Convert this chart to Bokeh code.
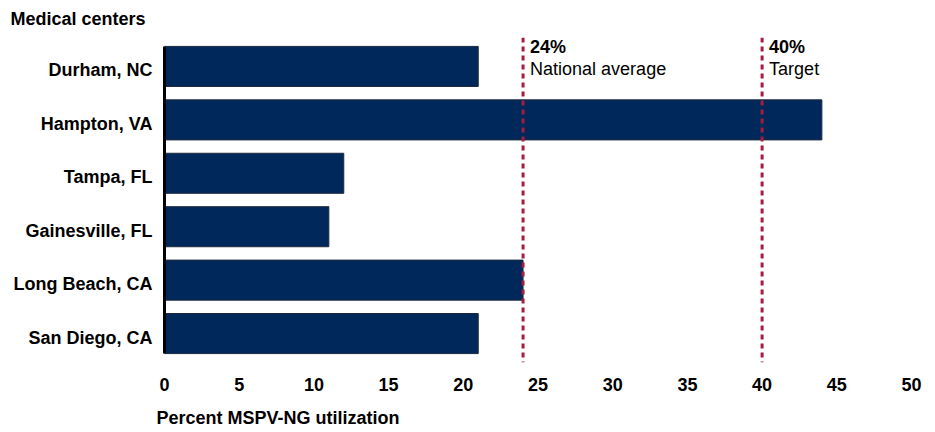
from bokeh.plotting import figure
from bokeh.models import (Range1d, Span, Label, Title, LinearAxis, FixedTicker, ColumnDataSource)
from bokeh.embed import file_html
from bokeh.resources import INLINE

centers = ["Durham, NC", "Hampton, VA", "Tampa, FL", "Gainesville, FL", "Long Beach, CA", "San Diego, CA"]
utilization = [21, 44, 12, 11, 24, 21]
x_ticks = [0, 5, 10, 15, 20, 25, 30, 35, 40, 45, 50]
ref_values = [24, 40]
ref_pct = ["24%", "40%"]
ref_names = ["National average", "Target"]
x_title = "Percent MSPV-NG utilization"
y_title = "Medical centers"

FONT = "Liberation Sans"
BAR_H = 0.75
PAD = 0.042          # padding (category units) at each end of the y range
LABEL_SHIFT = 0.075  # category labels sit slightly below bar centres
X_TITLE_AT = 7.6     # x-value at which the left-hanging x title is centred

n = len(centers)
# slot of each category, first category on top
slots = [n - 0.5 - i for i in range(n)]
src = ColumnDataSource(dict(center=centers, slot=slots, value=utilization))

p = figure(width=934, height=431, output_backend="svg", toolbar_location=None,
           x_range=Range1d(0, 50), y_range=Range1d(-PAD, n + PAD),
           min_border_left=164, min_border_right=23, min_border_top=37, min_border_bottom=69)
p.outline_line_color = None
p.grid.visible = False
p.background_fill_color = "white"

p.hbar(y="slot", right="value", left=0, height=BAR_H, source=src,
       fill_color="#00285A", line_color="#1E2A3A", line_width=1)

def style_labels(ax, standoff):
    ax.axis_line_color = None
    ax.major_tick_line_color = None
    ax.minor_tick_line_color = None
    ax.major_tick_out = 0
    ax.minor_tick_out = 0
    ax.major_label_standoff = standoff
    ax.major_label_text_font = FONT
    ax.major_label_text_font_style = "bold"
    ax.major_label_text_font_size = "18px"
    ax.major_label_text_color = "black"

# x axis (tick labels)
xa = p.xaxis[0]
xa.ticker = x_ticks
style_labels(xa, 15)

# x title, drawn as a one-label axis below the tick labels
xt = LinearAxis(ticker=FixedTicker(ticks=[X_TITLE_AT]),
                major_label_overrides={X_TITLE_AT: x_title})
style_labels(xt, 14)
p.add_layout(xt, "below")

# y axis: main one hidden, category labels drawn by a slightly shifted axis
p.yaxis.visible = False
p.extra_y_ranges = {"labels": Range1d(start=-PAD + LABEL_SHIFT, end=n + PAD + LABEL_SHIFT)}
ya = LinearAxis(y_range_name="labels", ticker=FixedTicker(ticks=slots),
                major_label_overrides={s: c for s, c in zip(slots, centers)})
style_labels(ya, 12)
ya.axis_line_color = "black"
ya.axis_line_width = 3
ya.bounds = (0.5 - BAR_H / 2 + LABEL_SHIFT, n - 0.5 + BAR_H / 2 + LABEL_SHIFT)
p.add_layout(ya, "left")

for v, pct, name in zip(ref_values, ref_pct, ref_names):
    p.add_layout(Span(location=v, dimension="height", line_color="#A51C3F",
                      line_width=3, line_dash="5 4"))
    p.add_layout(Label(x=v, y=315.5, x_units="data", y_units="screen", x_offset=7,
                       text=pct, text_font=FONT, text_font_style="bold",
                       text_font_size="18px", text_baseline="middle", text_color="black"))
    p.add_layout(Label(x=v, y=294, x_units="data", y_units="screen", x_offset=7,
                       text=name, text_font=FONT, text_font_style="normal",
                       text_font_size="18px", text_baseline="middle", text_color="black"))

p.add_layout(Title(text=y_title, align="left", offset=-154, standoff=14, vertical_align="top",
                   text_font=FONT, text_font_style="bold", text_font_size="18px",
                   text_color="black"), "above")

open("out.html", "w").write(file_html(p, INLINE))
